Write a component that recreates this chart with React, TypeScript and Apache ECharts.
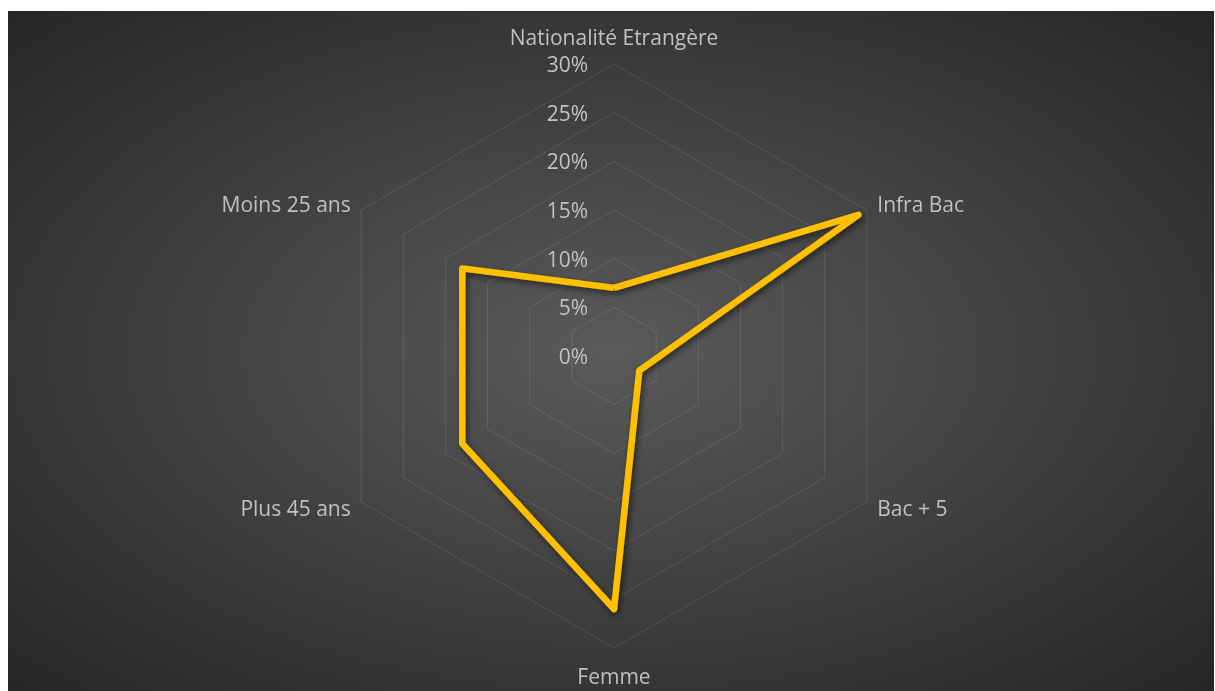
import React, { useEffect, useRef } from "react";
import * as echarts from "echarts";

// Indicators listed counter-clockwise from the top (ECharts radar order)
const categories = [
  "Nationalité Etrangère",
  "Moins 25 ans",
  "Plus 45 ans",
  "Femme",
  "Bac + 5",
  "Infra Bac",
];
const values = [7, 18, 18, 26, 3, 29];
const axisMin = 0;
const axisMax = 30;
const axisInterval = 5;

export default function App() {
  const ref = useRef<HTMLDivElement>(null);
  useEffect(() => {
    if (!ref.current) return;
    const chart = echarts.init(ref.current, null, { renderer: "svg" });
    const font = "'Open Sans', 'Noto Sans', sans-serif";
    const center = [606, 345];
    const radius = 292;
    chart.setOption({
      animation: false,
      backgroundColor: "transparent",
      textStyle: { fontFamily: font },
      radar: {
        center,
        radius,
        startAngle: 90,
        splitNumber: (axisMax - axisMin) / axisInterval,
        shape: "polygon",
        indicator: categories.map((name) => ({ name, min: axisMin, max: axisMax })),
        axisName: {
          color: "#c0c0c0",
          fontSize: 21,
          fontFamily: font,
          padding: [5, 0, 5, 0],
        },
        nameGap: 12,
        axisLine: { show: false },
        axisTick: { show: false },
        axisLabel: { show: false },
        splitLine: { lineStyle: { color: "rgba(255,255,255,0.1)", width: 1 } },
        splitArea: { show: false },
      },
      polar: { center, radius: [0, radius] },
      angleAxis: { show: false, type: "value", startAngle: 90, min: 0, max: 360 },
      radiusAxis: {
        type: "value",
        min: axisMin,
        max: axisMax,
        interval: axisInterval,
        axisLine: { show: false },
        axisTick: { show: false },
        splitLine: { show: false },
        axisLabel: {
          formatter: "{value}%",
          color: "#c0c0c0",
          fontSize: 21,
          margin: 26,
          fontFamily: font,
        },
      },
      series: [
        {
          type: "radar",
          symbol: "none",
          lineStyle: {
            color: "#FFC000",
            width: 6.5,
            join: "round",
            shadowColor: "rgba(0,0,0,0.55)",
            shadowBlur: 6,
            shadowOffsetX: 2,
            shadowOffsetY: 3,
          },
          data: [{ value: values, name: "Série1" }],
        },
      ],
    });
    return () => chart.dispose();
  }, []);

  return (
    <div
      ref={ref}
      style={{
        position: "fixed",
        left: 8,
        top: 11,
        width: 1206,
        height: 680,
        background:
          "radial-gradient(ellipse farthest-corner at 50% 50%, #5a5a5a 0%, #262626 100%)",
      }}
    />
  );
}
